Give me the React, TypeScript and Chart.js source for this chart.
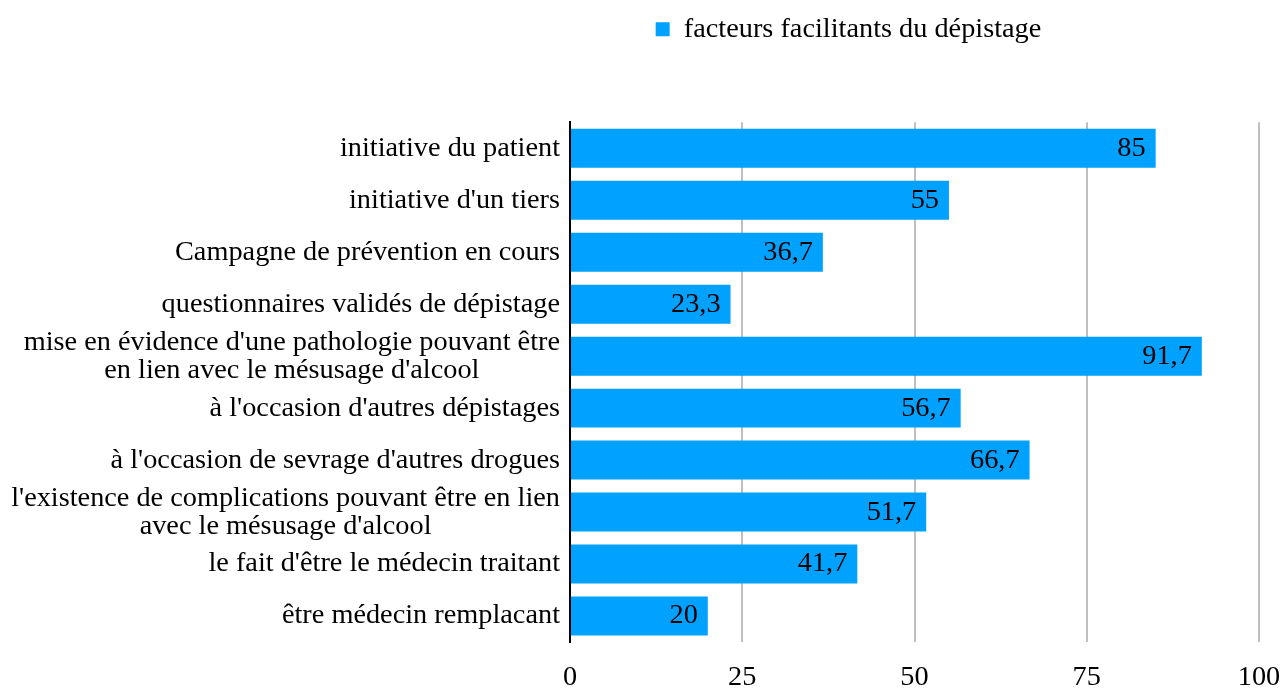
import React, { useEffect, useRef } from 'react';
import { Chart, registerables } from 'chart.js';

Chart.register(...registerables);

const categories: (string | string[])[] = [
  "initiative du patient",
  "initiative d'un tiers",
  "Campagne de prévention en cours",
  "questionnaires validés de dépistage",
  ["mise en évidence d'une pathologie pouvant être", "en lien avec le mésusage d'alcool"],
  "à l'occasion d'autres dépistages",
  "à l'occasion de sevrage d'autres drogues",
  ["l'existence de complications pouvant être en lien", "avec le mésusage d'alcool"],
  "le fait d'être le médecin traitant",
  "être médecin remplacant",
];
const values = [85, 55, 36.7, 23.3, 91.7, 56.7, 66.7, 51.7, 41.7, 20];
const seriesName = 'facteurs facilitants du dépistage';
const xMin = 0;
const xMax = 100;
const xStep = 25;

const FONT = "'Liberation Serif', 'Times New Roman', serif";
const FONT_SIZE = 28.3;
const LINE_H = 28;
const BAR_COLOR = 'rgb(0,161,255)';
const LEGEND_SHIFT = 207;
const LEGEND_EXTRA = 69;

const fmt = (v: number) => String(v).replace('.', ',');

const legendTweak = {
  id: 'legendTweak',
  beforeUpdate(chart: any) {
    const lg = chart.legend;
    if (lg && !lg._patched) {
      const orig = lg.fit;
      lg.fit = function () {
        orig.call(this);
        this.height += LEGEND_EXTRA;
      };
      lg._patched = true;
    }
  },
  afterLayout(chart: any) {
    const lg = chart.legend;
    if (lg) {
      lg.left += LEGEND_SHIFT;
      lg.right += LEGEND_SHIFT;
    }
  },
};

const yLabels = {
  id: 'yLabels',
  afterDraw(chart: any) {
    const ctx = chart.ctx;
    const y = chart.scales.y;
    const area = chart.chartArea;
    ctx.save();
    ctx.font = `${FONT_SIZE}px ${FONT}`;
    ctx.fillStyle = '#000';
    ctx.textBaseline = 'middle';
    const right = area.left - 10;
    categories.forEach((lab, i) => {
      const py = y.getPixelForValue(i);
      const lines = Array.isArray(lab) ? lab : [lab];
      if (lines.length === 1) {
        ctx.textAlign = 'right';
        ctx.fillText(lines[0], right, py);
      } else {
        const w = Math.max(...lines.map((l) => ctx.measureText(l).width));
        ctx.textAlign = 'center';
        lines.forEach((l, j) => {
          ctx.fillText(l, right - w / 2, py + (j - (lines.length - 1) / 2) * LINE_H);
        });
      }
    });
    ctx.restore();
  },
};

const barValues = {
  id: 'barValues',
  afterDatasetsDraw(chart: any) {
    const ctx = chart.ctx;
    const meta = chart.getDatasetMeta(0);
    ctx.save();
    ctx.font = `${FONT_SIZE}px ${FONT}`;
    ctx.fillStyle = '#000';
    ctx.textBaseline = 'middle';
    ctx.textAlign = 'right';
    meta.data.forEach((bar: any, i: number) => {
      ctx.fillText(fmt(values[i]), bar.x - 10, bar.y);
    });
    ctx.restore();
  },
};

export default function App() {
  const ref = useRef<HTMLCanvasElement | null>(null);
  useEffect(() => {
    document.body.style.margin = '0';
    if (!ref.current) return;
    const chart = new Chart(ref.current, {
      type: 'bar',
      data: {
        labels: categories.map((c) => (Array.isArray(c) ? c.join(' ') : c)),
        datasets: [
          {
            label: seriesName,
            data: values,
            backgroundColor: BAR_COLOR,
            borderWidth: 0,
            barPercentage: 0.75,
            categoryPercentage: 1,
          },
        ],
      },
      options: {
        indexAxis: 'y',
        animation: false,
        responsive: true,
        maintainAspectRatio: false,
        layout: { padding: { top: 5, left: 0, right: 0, bottom: 0 } },
        font: { family: FONT, size: FONT_SIZE },
        color: '#000',
        plugins: {
          tooltip: { enabled: false },
          legend: {
            display: true,
            position: 'top',
            labels: {
              boxWidth: 14,
              boxHeight: 14,
              padding: 10,
              color: '#000',
              font: { family: FONT, size: FONT_SIZE },
            },
          },
        },
        scales: {
          x: {
            type: 'linear',
            min: xMin,
            max: xMax,
            ticks: {
              stepSize: xStep,
              padding: 24,
              color: '#000',
              font: { family: FONT, size: FONT_SIZE, lineHeight: 0.8 },
            },
            grid: { color: '#bfbfbf', lineWidth: 2, drawTicks: false },
            border: { display: false },
            afterFit: (scale: any) => {
              scale.height = 46;
              scale.paddingRight = 24;
              scale.paddingLeft = 0;
            },
          },
          y: {
            type: 'category',
            ticks: { display: false },
            grid: { display: false },
            border: { display: true, color: '#000', width: 2 },
            afterFit: (scale: any) => {
              scale.width = 570;
            },
          },
        },
      } as any,
      plugins: [legendTweak, yLabels, barValues],
    });
    return () => chart.destroy();
  }, []);
  return (
    <div style={{ width: '1283px', height: '688px', position: 'relative' }}>
      <canvas ref={ref} />
    </div>
  );
}
